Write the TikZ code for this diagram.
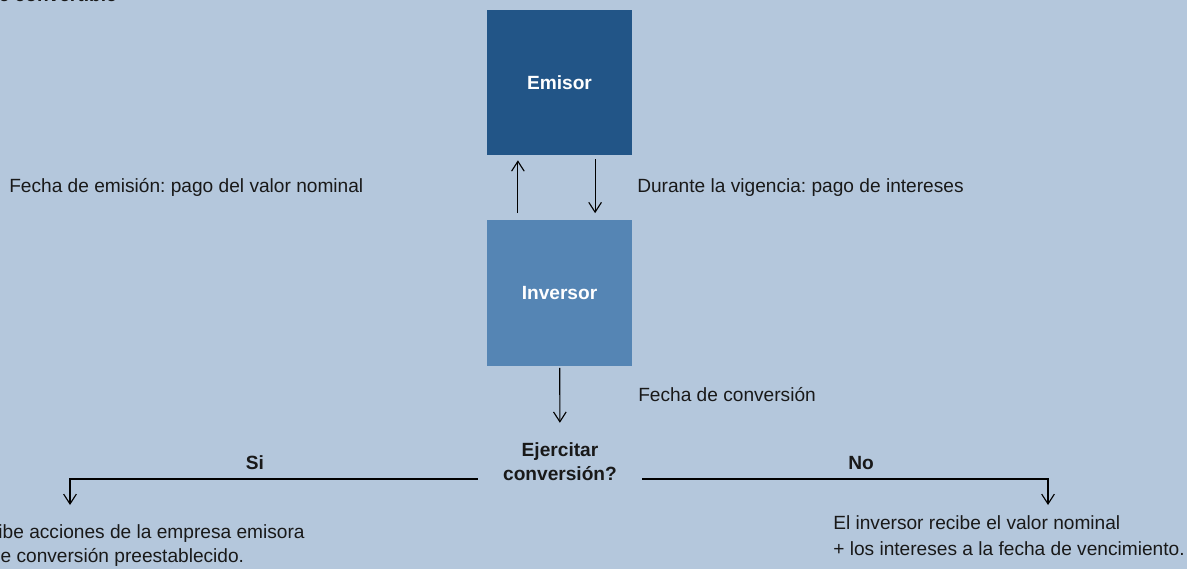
\documentclass[tikz,border=0pt]{standalone}
\usepackage{fontspec}
\setmainfont{Liberation Sans}
\frenchspacing
\usetikzlibrary{arrows.meta}
\definecolor{bgblue}{RGB}{180,199,220}
\definecolor{emisorblue}{RGB}{34,85,135}
\definecolor{inversorblue}{RGB}{85,133,180}
\tikzset{
  box/.style={minimum width=3.625cm,minimum height=3.625cm,inner sep=0pt,text=white,font=\bfseries\fontsize{13.6}{17}\selectfont},
  txt/.style={inner sep=0pt,text=black!90,font=\fontsize{13.6}{17}\selectfont},
  boldtxt/.style={txt,font=\bfseries\fontsize{13.6}{16.4}\selectfont},
  flow/.style={line width=0.8pt,-{Straight Barb[length=7pt,width=9pt]}}
}
\begin{document}
\begin{tikzpicture}[x=0.025cm,y=-0.025cm]
% Background
\fill[bgblue] (0,0) rectangle (1187,569);
\useasboundingbox (0,0) rectangle (1187,569);

% Title (cut at the top edge)
\node[boldtxt,anchor=base east] (title) at (117,2) {Esquema de un bono de tipo flotante convertible};

% Boxes
\node[box,fill=emisorblue] (emisor) at (559.5,82.5) {Emisor};
\node[box,fill=inversorblue] (inversor) at (559.5,293) {Inversor};

% Payments between issuer and investor
\node[txt,anchor=base west] (emision) at (9,193) {Fecha de emisión: pago del valor nominal};
\node[txt,anchor=base west] (vigencia) at (637,193) {Durante la vigencia: pago de intereses};
\draw[flow,shorten <=0.175cm,shorten >=0.125cm] ([xshift=-1.04cm]inversor.north) -- ([xshift=-1.04cm]emisor.south);
\draw[flow,shorten <=0.1cm,shorten >=0.175cm] ([xshift=0.89cm]emisor.south) -- ([xshift=0.89cm]inversor.north);

% Conversion decision
\node[txt,anchor=base west] (conversion) at (638,402) {Fecha de conversión};
\node[boldtxt,anchor=base,align=center,inner xsep=0.625cm] (decide) at (560,480) {Ejercitar\\conversión?};
\draw[flow,shorten <=0.05cm,shorten >=0.5cm] (inversor) -- (decide);

% Branches
\coordinate (sicorner) at (70,479);
\coordinate (sitip) at (70,505);
\coordinate (nocorner) at (1048,479);
\coordinate (notip) at (1048,505);
\node[boldtxt,anchor=base] (si) at (255,469) {Si};
\node[boldtxt,anchor=base] (no) at (861,469) {No};
\draw[flow] (decide.west |- sicorner) -- (sicorner) -- (sitip);
\draw[flow] (decide.east |- nocorner) -- (nocorner) -- (notip);

% Outcomes
\node[txt,anchor=base west,align=left] (acciones) at (-124,562) {El inversor recibe acciones de la empresa emisora\\según el tipo de conversión preestablecido.};
\node[txt,anchor=base west,align=left,font=\fontsize{13.6}{18.3}\selectfont] (nominal) at (833,555) {El inversor recibe el valor nominal\\+ los intereses a la fecha de vencimiento.};
\end{tikzpicture}
\end{document}
